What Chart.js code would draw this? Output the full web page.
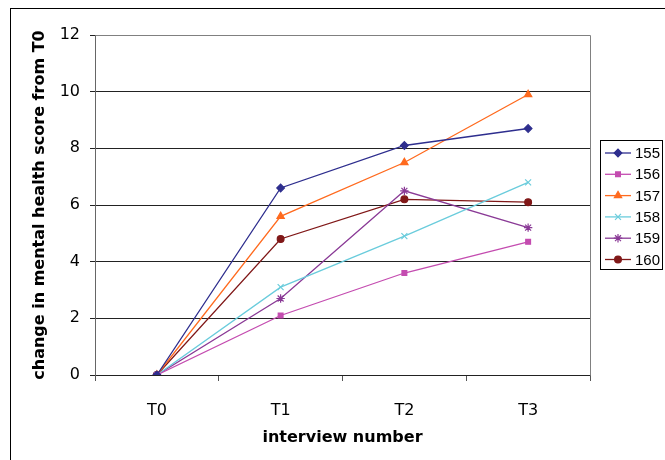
<!DOCTYPE html>
<html>
<head>
<meta charset="utf-8">
<script src="https://cdn.jsdelivr.net/npm/chart.js@4/dist/chart.umd.min.js"></script>
<style>
  html, body { margin: 0; padding: 0; background: #ffffff; }
  #wrap { position: relative; width: 665px; height: 460px; overflow: hidden; }
  #frame { position: absolute; left: 10px; top: 8px; width: 700px; height: 500px; border: 1px solid #000; box-sizing: border-box; }
  canvas { position: absolute; left: 0; top: 0; }
</style>
</head>
<body>
<div id="wrap">
  <div id="frame"></div>
  <canvas id="c" width="665" height="460"></canvas>
</div>
<script>
// Interview rounds
const interviews = ['T0', 'T1', 'T2', 'T3'];

// Change in mental health score from T0, per participant
const p155 = [0, 6.6, 8.1, 8.7];
const p156 = [0, 2.1, 3.6, 4.7];
const p157 = [0, 5.6, 7.5, 9.9];
const p158 = [0, 3.1, 4.9, 6.8];
const p159 = [0, 2.7, 6.5, 5.2];
const p160 = [0, 4.8, 6.2, 6.1];

const participantIds = ['155', '156', '157', '158', '159', '160'];
const participantValues = [p155, p156, p157, p158, p159, p160];
const participantColors = ['#2E2E8E', '#C44CB0', '#FF6A1E', '#6ACCDC', '#8A3A96', '#801818'];
const participantMarkers = ['rectRot', 'rect', 'triangle', 'crossRot', 'star', 'circle'];
const participantRadius = [3.8, 3.4, 4.2, 4.2, 4.2, 3.4];

const yTicksMin = 0, yTicksMax = 12, yTicksStep = 2;

const FONT = 'Liberation Sans, Arial, sans-serif';
const WIDE = 'DejaVu Sans, Liberation Sans, sans-serif';

const datasets = participantIds.map((id, i) => ({
  label: id,
  data: participantValues[i],
  borderColor: participantColors[i],
  backgroundColor: participantColors[i],
  pointBackgroundColor: participantColors[i],
  pointBorderColor: participantColors[i],
  pointStyle: participantMarkers[i],
  pointRadius: participantRadius[i],
  pointBorderWidth: 1.2,
  borderWidth: 1.3,
  tension: 0,
  fill: false
}));

// Plot-area frame and boxed legend
const framePlugin = {
  id: 'frame',
  afterDraw(chart) {
    const { ctx, chartArea: a } = chart;
    ctx.save();
    ctx.strokeStyle = '#808080';
    ctx.lineWidth = 1;
    ctx.beginPath();
    ctx.moveTo(Math.round(a.left) + 0.5, Math.round(a.top) + 0.5);
    ctx.lineTo(Math.round(a.right) + 0.5, Math.round(a.top) + 0.5);
    ctx.lineTo(Math.round(a.right) + 0.5, Math.round(a.bottom) + 0.5);
    ctx.stroke();

    // legend box
    const bx = 600.5, by = 140.5, bw = 62, bh = 129;
    ctx.fillStyle = '#ffffff';
    ctx.fillRect(bx, by, bw, bh);
    ctx.strokeStyle = '#000000';
    ctx.strokeRect(bx, by, bw, bh);

    ctx.font = '15px ' + FONT;
    ctx.textBaseline = 'middle';
    ctx.textAlign = 'left';
    chart.data.datasets.forEach((ds, i) => {
      const y = 153 + i * 21.3;
      ctx.strokeStyle = ds.borderColor;
      ctx.lineWidth = 1.3;
      ctx.beginPath();
      ctx.moveTo(605, y);
      ctx.lineTo(631, y);
      ctx.stroke();
      ctx.fillStyle = ds.pointBackgroundColor;
      ctx.strokeStyle = ds.pointBorderColor;
      ctx.lineWidth = 1.2;
      Chart.helpers.drawPoint(ctx, {
        pointStyle: ds.pointStyle,
        radius: ds.pointRadius,
        borderWidth: 1.2,
        rotation: 0
      }, 618, y);
      ctx.fillStyle = '#000000';
      ctx.fillText(ds.label, 635, y + 1);
    });
    ctx.restore();
  }
};

new Chart(document.getElementById('c'), {
  type: 'line',
  data: { labels: interviews, datasets },
  options: {
    responsive: false,
    animation: false,
    layout: { padding: { left: 0, right: 75, top: 35, bottom: 0 } },
    plugins: { legend: { display: false }, tooltip: { enabled: false } },
    scales: {
      x: {
        offset: true,
        grid: { offset: true, drawOnChartArea: false, drawTicks: true, tickLength: 6, color: '#555555' },
        border: { display: false },
        ticks: { color: '#000', font: { family: WIDE, size: 16 }, padding: 20 },
        title: { display: true, text: 'interview number', color: '#000', font: { family: WIDE, size: 16, weight: 'bold' }, padding: { top: 0, bottom: 13 } },
        afterFit(scale) { scale.height = 85; }
      },
      y: {
        min: yTicksMin,
        max: yTicksMax,
        ticks: { stepSize: yTicksStep, color: '#000', font: { family: WIDE, size: 16 }, padding: 10 },
        grid: { color: '#222222', lineWidth: 1, tickLength: 5, drawTicks: true },
        border: { display: true, color: '#666666', width: 1 },
        title: { display: true, text: 'change in mental health score from T0', color: '#000', font: { family: WIDE, size: 16, weight: 'bold' }, padding: { top: 30, bottom: 0 } },
        afterFit(scale) { scale.width = 95; }
      }
    }
  },
  plugins: [framePlugin]
});
</script>
</body>
</html>
